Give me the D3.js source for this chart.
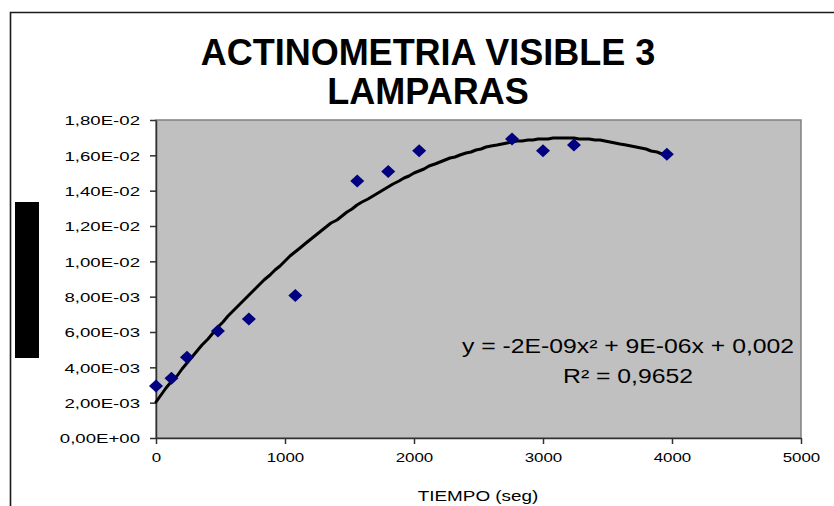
<!DOCTYPE html>
<html>
<head>
<meta charset="utf-8">
<script src="https://cdn.jsdelivr.net/npm/d3@7"></script>
<style>
  html, body { margin: 0; padding: 0; background: #ffffff; }
  svg { display: block; }
  text { font-family: "Liberation Sans", Arial, sans-serif; fill: #000; }
</style>
</head>
<body>
<svg id="chart" width="834" height="506"></svg>
<script>
// Irradiation time (s) and measured actinometer response
const times = [0, 120, 240, 480, 720, 1080, 1560, 1800, 2040, 2760, 3000, 3240, 3960];
const actinometry = [0.00294, 0.00338, 0.00457, 0.00606, 0.00674, 0.00806, 0.01455, 0.01508, 0.01626, 0.01693, 0.01626, 0.01659, 0.01606];

const xTicks = [0, 1000, 2000, 3000, 4000, 5000];
const xTickLabels = ["0", "1000", "2000", "3000", "4000", "5000"];
const yTicks = [0, 0.002, 0.004, 0.006, 0.008, 0.010, 0.012, 0.014, 0.016, 0.018];
const yTickLabels = ["0,00E+00", "2,00E-03", "4,00E-03", "6,00E-03", "8,00E-03", "1,00E-02", "1,20E-02", "1,40E-02", "1,60E-02", "1,80E-02"];

const titleLines = ["ACTINOMETRIA VISIBLE 3", "LAMPARAS"];
const xTitle = "TIEMPO (seg)";
const equationLines = ["y = -2E-09x\u00B2 + 9E-06x + 0,002", "R\u00B2 = 0,9652"];

// Least-squares quadratic fit y = a x^2 + b x + c
function quadFit(xs, ys) {
  let s0 = xs.length, s1 = 0, s2 = 0, s3 = 0, s4 = 0, t0 = 0, t1 = 0, t2 = 0;
  xs.forEach((x, i) => {
    const y = ys[i], x2 = x * x;
    s1 += x; s2 += x2; s3 += x2 * x; s4 += x2 * x2;
    t0 += y; t1 += x * y; t2 += x2 * y;
  });
  // Solve [[s4,s3,s2],[s3,s2,s1],[s2,s1,s0]] [a,b,c] = [t2,t1,t0]
  const M = [[s4, s3, s2, t2], [s3, s2, s1, t1], [s2, s1, s0, t0]];
  for (let i = 0; i < 3; i++) {
    for (let k = i + 1; k < 3; k++) {
      const f = M[k][i] / M[i][i];
      for (let j = i; j < 4; j++) M[k][j] -= f * M[i][j];
    }
  }
  const r = [0, 0, 0];
  for (let i = 2; i >= 0; i--) {
    let s = M[i][3];
    for (let j = i + 1; j < 3; j++) s -= M[i][j] * r[j];
    r[i] = s / M[i][i];
  }
  return { a: r[0], b: r[1], c: r[2] };
}

const svg = d3.select("#chart");
const plot = { left: 156, right: 801, top: 120, bottom: 438 };

const x = d3.scaleLinear().domain([0, 5000]).range([plot.left, plot.right]);
const y = d3.scaleLinear().domain([0, 0.018]).range([plot.bottom, plot.top]);

// Outer chart frame
svg.append("path")
  .attr("d", "M10.5,520 L10.5,12.5 L840,12.5")
  .attr("fill", "none")
  .attr("stroke", "#1a1a1a")
  .attr("stroke-width", 1.6);

// Vertical axis title block
svg.append("rect")
  .attr("x", 15).attr("y", 202)
  .attr("width", 24).attr("height", 156)
  .attr("fill", "#000");

// Plot area
svg.append("rect")
  .attr("x", plot.left).attr("y", plot.top)
  .attr("width", plot.right - plot.left).attr("height", plot.bottom - plot.top)
  .attr("fill", "#c0c0c0")
  .attr("stroke", "#808080")
  .attr("stroke-width", 1.5);

// Title
svg.append("text")
  .attr("text-anchor", "middle")
  .attr("font-weight", "bold")
  .attr("font-size", 36)
  .selectAll("tspan").data(titleLines).join("tspan")
  .attr("x", 428)
  .attr("y", (d, i) => 65 + i * 39)
  .text(d => d);

// Y axis
const yAxis = svg.append("g")
  .attr("transform", `translate(${plot.left},0)`)
  .call(d3.axisLeft(y).tickValues(yTicks).tickSize(6).tickSizeOuter(0)
    .tickFormat((d, i) => yTickLabels[i]));
yAxis.select(".domain").attr("stroke", "#303030").attr("stroke-width", 1.5);
yAxis.selectAll(".tick line").attr("stroke", "#303030").attr("stroke-width", 1.5);
yAxis.selectAll(".tick text")
  .attr("x", 0).attr("dy", "0.36em")
  .attr("font-size", 13.5)
  .attr("font-family", "Liberation Sans, Arial, sans-serif")
  .attr("fill", "#000")
  .attr("transform", "translate(-16,0) scale(1.38,1)");

// X axis
const xAxis = svg.append("g")
  .attr("transform", `translate(0,${plot.bottom})`)
  .call(d3.axisBottom(x).tickValues(xTicks).tickSize(6).tickSizeOuter(0)
    .tickFormat((d, i) => xTickLabels[i]));
xAxis.select(".domain").attr("stroke", "#303030").attr("stroke-width", 1.5);
xAxis.selectAll(".tick line").attr("stroke", "#303030").attr("stroke-width", 1.5);
xAxis.selectAll(".tick text")
  .attr("y", 0).attr("dy", "0.36em")
  .attr("font-size", 13.5)
  .attr("font-family", "Liberation Sans, Arial, sans-serif")
  .attr("fill", "#000")
  .attr("transform", "translate(0,19) scale(1.25,1)");

// X axis title
svg.append("text")
  .attr("text-anchor", "middle")
  .attr("font-size", 14)
  .attr("transform", "translate(478,501) scale(1.35,1)")
  .text(xTitle);

// Polynomial trendline, fitted to the measurements
const fit = quadFit(times, actinometry);
const xEnd = d3.max(times);
const trendX = d3.range(0, xEnd + 1, 40);
const line = d3.line()
  .x(t => Math.round(x(t)))
  .y(t => Math.round(y(fit.a * t * t + fit.b * t + fit.c)));
svg.append("path")
  .datum(trendX)
  .attr("d", line)
  .attr("fill", "none")
  .attr("stroke", "#000")
  .attr("stroke-width", 3)
  .attr("stroke-linejoin", "round")
  .attr("stroke-linecap", "round");

// Data markers (diamonds)
const diamond = "M0,-6.5 L7,0 L0,6.5 L-7,0 Z";
svg.append("g").selectAll("path")
  .data(times.map((t, i) => [t, actinometry[i]]))
  .join("path")
  .attr("d", diamond)
  .attr("transform", d => `translate(${x(d[0])},${y(d[1])})`)
  .attr("fill", "#000080");

// Trendline equation
equationLines.forEach((txt, i) => {
  svg.append("text")
    .attr("text-anchor", "middle")
    .attr("font-size", 19.5)
    .attr("transform", `translate(628,${353 + i * 30}) scale(1.27,1)`)
    .text(txt);
});
</script>
</body>
</html>
